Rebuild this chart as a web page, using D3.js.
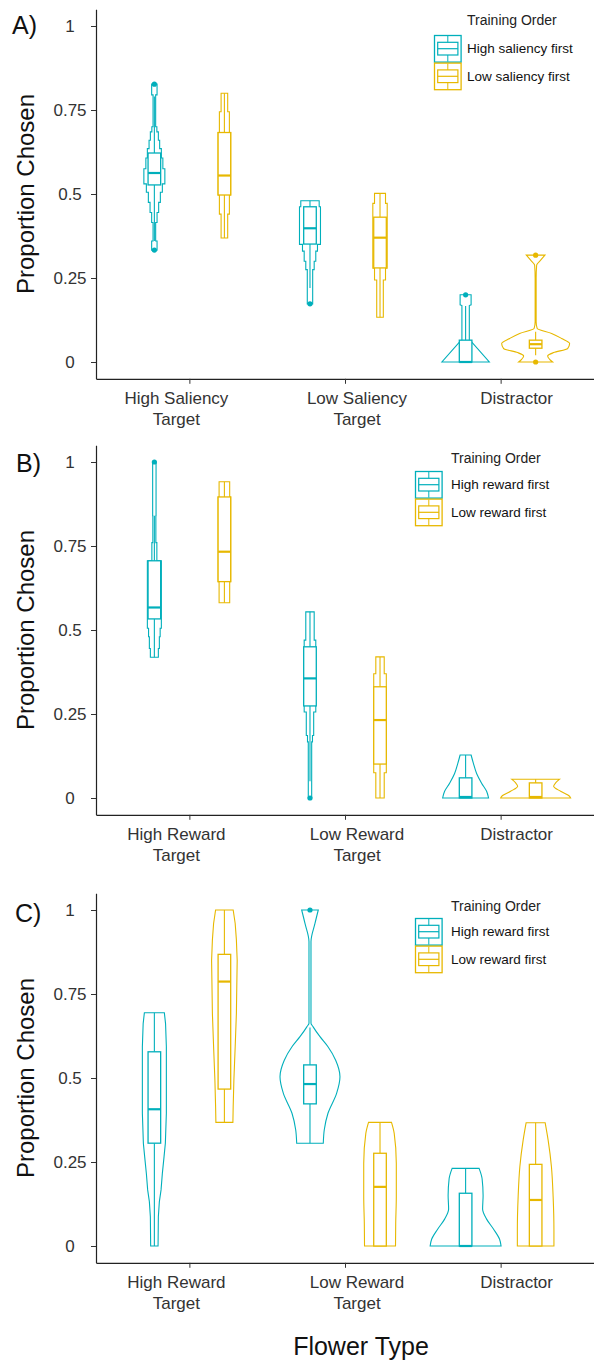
<!DOCTYPE html>
<html>
<head>
<meta charset="utf-8">
<script src="https://cdn.jsdelivr.net/npm/d3@7"></script>
<style>
  body { margin: 0; background: #fff; }
  text { font-family: "Liberation Sans", Arial, sans-serif; }
</style>
</head>
<body>
<svg id="chart" width="594" height="1360"></svg>
<script>
const groupColors = ["#00AFBB", "#E7B800"];
const legendTitle = "Training Order";
const yTicks = [0, 0.25, 0.5, 0.75, 1];

// order of violins in each panel: cat1 group1, cat1 group2, cat2 group1, ...
// profiles are [proportion, relative density], top to bottom
const catsA = ["High Saliency|Target", "Low Saliency|Target", "Distractor"];
const legendA = ["High saliency first", "Low saliency first"];
const violinsA = [
  [[0.827,2.7],[0.795,1.3],[0.70,2.5],[0.685,4],[0.66,5.3],[0.635,7],[0.607,8.5],[0.575,10.5],[0.53,8],[0.505,6],[0.475,4.3],[0.445,2.7],[0.415,1.3],[0.36,2.7],[0.333,2.7]],
  [[0.80,3.3],[0.745,5],[0.683,6.3],[0.497,5],[0.44,3.3],[0.369,3.3]],
  [[0.48,9.2],[0.462,10.5],[0.35,7.5],[0.33,5.8],[0.30,4.2],[0.275,2.7],[0.173,2.7]],
  [[0.502,5.5],[0.472,7.2],[0.279,5.5],[0.244,3.3],[0.133,3.3]],
  [[0.2,5.5],[0.17,5.5],[0.168,3.7],[0.065,3.7],[0.06,6],[0,23.7]],
  [[0.318,9.3],[0.303,5],[0.288,1],[0.25,0.5],[0.12,0.5],[0.1,1.5],[0.085,16],[0.07,26],[0.055,34],[0.04,32],[0.028,18],[0.018,12],[0.008,14],[0,17]]
];
// q1, median, q3, lower whisker, upper whisker
const boxesA = [
  [0.527,0.5625,0.622,0.36,0.79],
  [0.497,0.555,0.683,0.369,0.80],
  [0.351,0.398,0.462,0.22,0.48],
  [0.28,0.37,0.431,0.133,0.502],
  [0,0,0.065,0,0.167],
  [0.041,0.053,0.065,0.02,0.09]
];
const outliersA = [[0.827,0.333],[],[0.173],[],[0.2],[0.318,0]];

const catsB = ["High Reward|Target", "Low Reward|Target", "Distractor"];
const legendB = ["High reward first", "Low reward first"];
const violinsB = [
  [[1.0,1.7],[0.84,1.5],[0.76,2.5],[0.706,7],[0.505,5.8],[0.48,5],[0.445,4],[0.419,4]],
  [[0.941,5.3],[0.896,6.3],[0.644,5.3],[0.581,5.3]],
  [[0.554,4.2],[0.47,5.8],[0.256,3.7],[0.186,2.5],[0.167,1.7],[0,1.7]],
  [[0.42,4.2],[0.37,6.3],[0.075,4.2],[0,4.2]],
  [[0.128,5.5],[0.103,7.8],[0.073,11],[0.044,16],[0.02,21],[0,23]],
  [[0.056,24],[0.045,20],[0.035,18],[0.02,25],[0.005,34],[0,35]]
];
const boxesB = [
  [0.533,0.567,0.706,0.419,0.84],
  [0.644,0.733,0.896,0.581,0.941],
  [0.274,0.356,0.45,0.05,0.554],
  [0.101,0.232,0.331,0,0.42],
  [0,0.003,0.06,0,0.128],
  [0,0.003,0.045,0,0.056]
];
const outliersB = [[1.0],[],[0],[],[],[]];

const catsC = ["High Reward|Target", "Low Reward|Target", "Distractor"];
const legendC = ["High reward first", "Low reward first"];
const violinsC = [
  [[0.694,10],[0.662,11.2],[0.593,12],[0.395,12],[0.306,11],[0.266,9.7],[0.216,8],[0.167,6.7],[0.132,5],[0.087,4],[0,3.7]],
  [[1.0,8.8],[0.96,10.8],[0.911,12],[0.85,12.8],[0.692,12],[0.593,10.8],[0.494,9.5],[0.415,8.8],[0.368,8.5]],
  [[1.0,8.3],[0.96,5],[0.906,1],[0.663,1],[0.653,3],[0.623,10],[0.593,18],[0.553,25.7],[0.504,30],[0.455,26.7],[0.395,18],[0.346,14.3],[0.306,13.3]],
  [[0.368,11.5],[0.335,14.2],[0.246,16.3],[0.147,16.3],[0.067,15.7],[0,15.5]],
  [[0.231,13.5],[0.2,16.5],[0.15,17.5],[0.11,17],[0.08,21],[0.05,28],[0.02,34],[0,35.5]],
  [[0.367,9.5],[0.315,12.5],[0.236,15.8],[0.147,17.5],[0.048,18.3],[0,18.3]]
];
const boxesC = [
  [0.306,0.407,0.578,0,0.694],
  [0.467,0.787,0.868,0.368,1.0],
  [0.423,0.482,0.539,0.306,0.65],
  [0,0.176,0.276,0,0.368],
  [0,0,0.157,0,0.231],
  [0,0.137,0.243,0,0.367]
];
const outliersC = [[],[],[1.0],[],[],[]];

// outline style of each violin (kept apart from the values)
const curveKinds = {
  A: ["step","step","step","step","linear","smooth"],
  B: ["step","step","step","step","smooth","smooth"],
  C: ["linear","linear","smooth","smooth","smooth","smooth"]
};
const curveMap = {step: d3.curveStepBefore, linear: d3.curveLinear, smooth: d3.curveMonotoneY};

const panels = [
  {key: "A", letter: "A)", cats: catsA, legend: legendA, violins: violinsA, boxes: boxesA, outliers: outliersA,
   top: 26, zero: 362, letterX: 12, letterY: 34, legX: 434, legY: 35, titleX: 467, titleY: 25},
  {key: "B", letter: "B)", cats: catsB, legend: legendB, violins: violinsB, boxes: boxesB, outliers: outliersB,
   top: 462, zero: 798, letterX: 16, letterY: 472, legX: 415, legY: 471, titleX: 451, titleY: 463},
  {key: "C", letter: "C)", cats: catsC, legend: legendC, violins: violinsC, boxes: boxesC, outliers: outliersC,
   top: 910, zero: 1246, letterX: 15, letterY: 922, legX: 415, legY: 918, titleX: 451, titleY: 911}
];

const svg = d3.select("#chart");
const left = 96, right = 594;
const labelShift = [-13, 12, 16]; // category labels sit a bit off their ticks
const boxHalf = 6.3;
const keySize = 27.6;

panels.forEach(p => {
  const g = svg.append("g");
  const x = d3.scalePoint().domain(p.cats).range([left, right]).padding(0.6);
  const pad = (p.zero - p.top) * 0.05;
  const y = d3.scaleLinear().domain([-0.05, 1.05]).range([p.zero + pad, p.top - pad]);
  const dodge = x.step() * 0.225;
  const dens = d3.scaleLinear().domain([0, 35.5]).range([0, x.step() * 0.228]);
  const axisY = y(-0.05);

  // y axis
  const ya = g.append("g")
      .attr("transform", `translate(${left},0)`)
      .call(d3.axisLeft(y).tickValues(yTicks).tickFormat(d => String(d)).tickSize(5).tickSizeOuter(0));
  ya.select(".domain").attr("stroke", "#222").attr("stroke-width", 1.2);
  ya.selectAll(".tick line").attr("stroke", "#333");
  ya.selectAll(".tick text")
      .attr("x", -26)
      .attr("text-anchor", "middle")
      .attr("fill", "#333")
      .style("font-size", "17px")
      .style("font-family", "Liberation Sans, Arial, sans-serif");

  // x axis
  const xa = g.append("g")
      .attr("transform", `translate(0,${axisY})`)
      .call(d3.axisBottom(x).tickSize(5).tickSizeOuter(0).tickFormat(""));
  xa.select(".domain").attr("stroke", "#222").attr("stroke-width", 1.2);
  xa.selectAll(".tick line").attr("stroke", "#333");

  p.cats.forEach((c, i) => {
    const t = g.append("text")
        .attr("x", x(c) + labelShift[i])
        .attr("y", axisY + 25)
        .attr("text-anchor", "middle")
        .attr("fill", "#333")
        .style("font-size", "17px");
    c.split("|").forEach((line, k) => {
      t.append("tspan").attr("x", x(c) + labelShift[i]).attr("dy", k ? 21 : 0).text(line);
    });
  });

  // y title
  g.append("text")
      .attr("transform", `translate(34,${(p.top + p.zero) / 2}) rotate(-90)`)
      .attr("text-anchor", "middle")
      .attr("fill", "#111")
      .style("font-size", "24px")
      .text("Proportion Chosen");

  // panel letter
  g.append("text")
      .attr("x", p.letterX)
      .attr("y", p.letterY)
      .attr("fill", "#111")
      .style("font-size", "25px")
      .text(p.letter);

  // violins, boxes, outliers
  p.violins.forEach((prof, i) => {
    const cat = p.cats[Math.floor(i / 2)];
    const grp = i % 2;
    const cx = x(cat) + (grp ? dodge : -dodge);
    const col = groupColors[grp];
    const area = d3.area()
        .y(d => y(d[0]))
        .x0(d => cx - dens(d[1]))
        .x1(d => cx + dens(d[1]))
        .curve(curveMap[curveKinds[p.key][i]]);
    g.append("path")
        .datum(prof)
        .attr("d", area)
        .attr("fill", "none")
        .attr("stroke", col)
        .attr("stroke-width", 1.1);

    const [q1, med, q3, lo, hi] = p.boxes[i];
    g.append("line")
        .attr("x1", cx).attr("x2", cx)
        .attr("y1", y(q3)).attr("y2", y(hi))
        .attr("stroke", col).attr("stroke-width", 1.1);
    g.append("line")
        .attr("x1", cx).attr("x2", cx)
        .attr("y1", y(q1)).attr("y2", y(lo))
        .attr("stroke", col).attr("stroke-width", 1.1);
    g.append("rect")
        .attr("x", cx - boxHalf)
        .attr("y", y(q3))
        .attr("width", boxHalf * 2)
        .attr("height", y(q1) - y(q3))
        .attr("fill", "#fff")
        .attr("stroke", col)
        .attr("stroke-width", 1.3);
    g.append("line")
        .attr("x1", cx - boxHalf).attr("x2", cx + boxHalf)
        .attr("y1", y(med)).attr("y2", y(med))
        .attr("stroke", col).attr("stroke-width", 2.2);

    p.outliers[i].forEach(v => {
      g.append("circle")
          .attr("cx", cx).attr("cy", y(v)).attr("r", 2.6)
          .attr("fill", col);
    });
  });

  // legend
  g.append("text")
      .attr("x", p.titleX)
      .attr("y", p.titleY)
      .attr("fill", "#222")
      .style("font-size", "14px")
      .text(legendTitle);
  p.legend.forEach((lab, k) => {
    const kx = p.legX, ky = p.legY + k * keySize;
    const col = groupColors[k];
    g.append("rect")
        .attr("x", kx + 0.5).attr("y", ky + 0.5)
        .attr("width", keySize - 1).attr("height", keySize - 1)
        .attr("fill", "none").attr("stroke", col).attr("stroke-width", 1.3);
    g.append("line").attr("x1", kx + keySize / 2).attr("x2", kx + keySize / 2)
        .attr("y1", ky + 1).attr("y2", ky + keySize - 1)
        .attr("stroke", col).attr("stroke-width", 1);
    g.append("rect")
        .attr("x", kx + 3.7).attr("y", ky + 7.3)
        .attr("width", keySize - 7.4).attr("height", 12.7)
        .attr("fill", "#fff").attr("stroke", col).attr("stroke-width", 1.2);
    g.append("line").attr("x1", kx + 3.7).attr("x2", kx + keySize - 3.7)
        .attr("y1", ky + 13.7).attr("y2", ky + 13.7)
        .attr("stroke", col).attr("stroke-width", 1.2);
    g.append("text")
        .attr("x", p.titleX)
        .attr("y", ky + 18.3)
        .attr("fill", "#111")
        .style("font-size", "13.5px")
        .text(lab);
  });
});

// shared x title
svg.append("text")
    .attr("x", 361)
    .attr("y", 1355)
    .attr("text-anchor", "middle")
    .attr("fill", "#111")
    .style("font-size", "25px")
    .text("Flower Type");
</script>
</body>
</html>
